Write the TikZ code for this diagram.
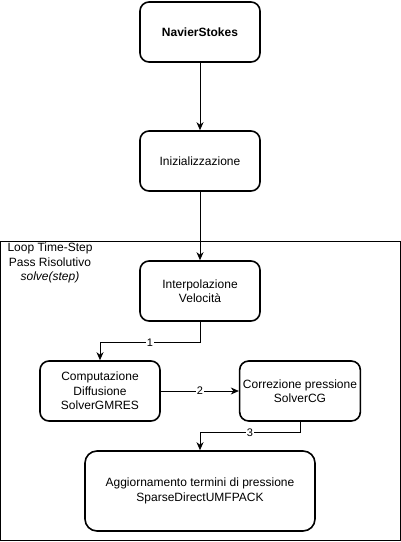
\documentclass[tikz,border=0pt]{standalone}
\usepackage{fontspec}
\setmainfont{Liberation Sans}
\usetikzlibrary{arrows.meta}

\begin{document}
\begin{tikzpicture}[x=1pt,y=-1pt,
	box/.style={shape=rectangle,draw,line width=1.6pt,rounded corners=9pt,minimum width=120pt,minimum height=60pt,align=center,font=\fontsize{12}{14.5}\selectfont},
	arr/.style={-{Stealth[length=8pt,width=7pt,inset=2.5pt]},line width=0.8pt},
	num/.style={fill=white,inner sep=1pt,font=\fontsize{11}{13}\selectfont}]
	\useasboundingbox (0,0) rectangle (401,542);
	\draw[line width=0.8pt] (0.5,241) rectangle (400,540);
	\path (200,32) node (navier) [box] {\textbf{NavierStokes}}
		  (200,161) node (init) [box] {Inizializzazione}
		  (50,242) node (loop) [anchor=north,align=center,inner sep=1pt,font=\fontsize{12}{14.5}\selectfont] {Loop Time-Step\\Pass Risolutivo\\\textit{solve(step)}}
		  (200,291) node (interp) [box] {Interpolazione\\Velocità}
		  (100,391) node (diff) [box] {Computazione\\Diffusione\\SolverGMRES}
		  (300,391) node (corr) [box] {Correzione pressione\\SolverCG}
		  (200,491) node (agg) [box,minimum width=230pt,minimum height=80pt,rounded corners=12pt] {Aggiornamento termini di pressione\\SparseDirectUMFPACK};
	\draw[arr] (navier) -- (init);
	\draw[arr] (init) -- (interp);
	\draw[arr] (interp.south) -- ++(0,21) -| node[num,pos=0.25] {1} (diff.north);
	\draw[arr] (diff) -- node[num] {2} (corr);
	\draw[arr] (corr.south) -- ++(0,11) -| node[num,pos=0.25] {3} (agg.north);
\end{tikzpicture}
\end{document}
